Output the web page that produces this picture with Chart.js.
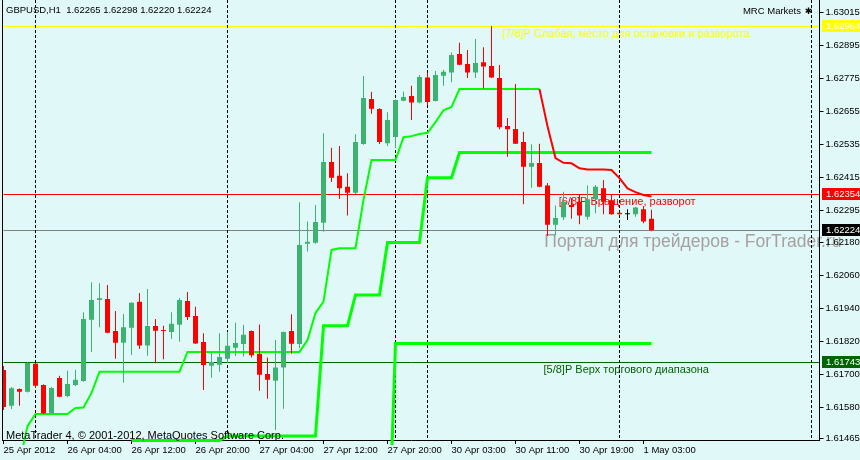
<!DOCTYPE html>
<html>
<head>
<meta charset="utf-8">
<script src="https://cdn.jsdelivr.net/npm/chart.js@4"></script>
<style>
  html, body { margin: 0; padding: 0; background: #e0f8f8; }
  #wrap { width: 860px; height: 460px; }
</style>
</head>
<body>
<div id="wrap"><canvas id="chart" width="860" height="460"></canvas></div>
<script>
// GBPUSD H1, one entry per hourly bar, from 25 Apr 2012 20:00
const opens = [
  1.61715, 1.61585, 1.61646, 1.61636, 1.61738, 1.61661, 1.61559, 1.61686, 1.61621, 1.61661,
  1.61675, 1.61898, 1.61970, 1.61973, 1.61857, 1.61814, 1.61869, 1.61963, 1.61804, 1.61875,
  1.61861, 1.61853, 1.61880, 1.61966, 1.61912, 1.61817, 1.61731, 1.61734, 1.61756, 1.61796,
  1.61810, 1.61857, 1.61774, 1.61701, 1.61676, 1.61724, 1.61857, 1.61810, 1.62174, 1.62178,
  1.62251, 1.62472, 1.62422, 1.62382, 1.62360, 1.62537, 1.62701, 1.62665, 1.62540, 1.62563,
  1.62695, 1.62712, 1.62688, 1.62779, 1.62694, 1.62786, 1.62797, 1.62865, 1.62828, 1.62797,
  1.62835, 1.62821, 1.62777, 1.62603, 1.62592, 1.62545, 1.62455, 1.62468, 1.62386, 1.62244,
  1.62271, 1.62315, 1.62327, 1.62273, 1.62336, 1.62376, 1.62333, 1.62287, 1.62282, 1.62282,
  1.62300, 1.62265
];
const highs = [
  1.61730, 1.61653, 1.61648, 1.61744, 1.61741, 1.61663, 1.61653, 1.61694, 1.61712, 1.61716,
  1.61925, 1.62034, 1.62031, 1.62024, 1.61930, 1.61919, 1.61962, 1.61995, 1.62010, 1.61901,
  1.61876, 1.61925, 1.61977, 1.61999, 1.61945, 1.61849, 1.61780, 1.61849, 1.61853, 1.61887,
  1.61880, 1.61859, 1.61881, 1.61761, 1.61824, 1.61855, 1.61918, 1.62325, 1.62255, 1.62315,
  1.62576, 1.62524, 1.62530, 1.62431, 1.62573, 1.62785, 1.62727, 1.62667, 1.62653, 1.62699,
  1.62728, 1.62749, 1.62788, 1.62797, 1.62803, 1.62807, 1.62870, 1.62906, 1.62879, 1.62919,
  1.62889, 1.62967, 1.62825, 1.62632, 1.62756, 1.62582, 1.62536, 1.62538, 1.62395, 1.62314,
  1.62364, 1.62341, 1.62352, 1.62386, 1.62388, 1.62406, 1.62355, 1.62288, 1.62300, 1.62309,
  1.62312, 1.62298
];
const lows = [
  1.61570, 1.61573, 1.61585, 1.61633, 1.61650, 1.61555, 1.61555, 1.61616, 1.61616, 1.61657,
  1.61672, 1.61781, 1.61871, 1.61849, 1.61756, 1.61669, 1.61770, 1.61792, 1.61767, 1.61740,
  1.61754, 1.61828, 1.61818, 1.61897, 1.61810, 1.61642, 1.61687, 1.61709, 1.61740, 1.61766,
  1.61764, 1.61761, 1.61640, 1.61611, 1.61497, 1.61574, 1.61774, 1.61794, 1.62146, 1.62174,
  1.62218, 1.62399, 1.62337, 1.62277, 1.62355, 1.62535, 1.62647, 1.62537, 1.62530, 1.62522,
  1.62693, 1.62625, 1.62686, 1.62678, 1.62692, 1.62749, 1.62762, 1.62824, 1.62777, 1.62777,
  1.62739, 1.62777, 1.62591, 1.62491, 1.62537, 1.62318, 1.62378, 1.62380, 1.62203, 1.62205,
  1.62261, 1.62265, 1.62245, 1.62263, 1.62285, 1.62282, 1.62280, 1.62281, 1.62261, 1.62273,
  1.62249, 1.62220
];
const closes = [
  1.61581, 1.61649, 1.61636, 1.61741, 1.61658, 1.61558, 1.61650, 1.61618, 1.61664, 1.61680,
  1.61901, 1.61970, 1.61976, 1.61851, 1.61814, 1.61871, 1.61960, 1.61804, 1.61875, 1.61858,
  1.61857, 1.61883, 1.61970, 1.61908, 1.61812, 1.61733, 1.61744, 1.61762, 1.61803, 1.61813,
  1.61843, 1.61769, 1.61698, 1.61680, 1.61724, 1.61853, 1.61811, 1.62170, 1.62182, 1.62254,
  1.62472, 1.62415, 1.62376, 1.62360, 1.62545, 1.62705, 1.62666, 1.62545, 1.62625, 1.62697,
  1.62708, 1.62688, 1.62781, 1.62690, 1.62788, 1.62800, 1.62861, 1.62826, 1.62797, 1.62832,
  1.62819, 1.62779, 1.62598, 1.62591, 1.62538, 1.62455, 1.62468, 1.62382, 1.62244, 1.62268,
  1.62327, 1.62308, 1.62277, 1.62336, 1.62382, 1.62327, 1.62282, 1.62282, 1.62282, 1.62306,
  1.62255, 1.62224
];

// indicator lines, each starts at bar index *From
const trailUpFrom = 2;
const trailUp = [
  1.61380, 1.61511, 1.61555, 1.61555, 1.61555, 1.61555, 1.61555, 1.61577, 1.61579, 1.61632,
  1.61709, 1.61709, 1.61709, 1.61709, 1.61709, 1.61709, 1.61709, 1.61709, 1.61709, 1.61709, 1.61709,
  1.61781, 1.61781, 1.61781, 1.61781, 1.61781, 1.61781, 1.61781, 1.61781, 1.61781, 1.61781,
  1.61781, 1.61781, 1.61781, 1.61781, 1.61781,
  1.61824, 1.61923, 1.61964, 1.62152, 1.62158, 1.62158, 1.62158, 1.62334,
  1.62479, 1.62479, 1.62479, 1.62479,
  1.62562, 1.62566, 1.62574, 1.62578, 1.62617, 1.62660, 1.62672,
  1.62737, 1.62737, 1.62737, 1.62737, 1.62737, 1.62737, 1.62737, 1.62737, 1.62737, 1.62737, 1.62737
];
const trailDownFrom = 67;
const trailDown = [
  1.62737, 1.62602, 1.62486, 1.62469, 1.62467, 1.62449, 1.62445, 1.62445, 1.62445, 1.62443,
  1.62413, 1.62376, 1.62362, 1.62352, 1.62346
];
const stepMidFrom = 16;
const stepMid = [
  1.61459, 1.61459, 1.61459, 1.61459, 1.61459, 1.61459, 1.61459, 1.61459, 1.61459, 1.61459, 1.61459, 1.61459,
  1.61475, 1.61475, 1.61475, 1.61475, 1.61475, 1.61475, 1.61475, 1.61475, 1.61475, 1.61475, 1.61475, 1.61475,
  1.61876, 1.61876, 1.61876, 1.61876,
  1.61988, 1.61988, 1.61988, 1.61988,
  1.62179, 1.62179, 1.62179, 1.62179, 1.62179,
  1.62415, 1.62415, 1.62415, 1.62415,
  1.62506, 1.62506, 1.62506, 1.62506, 1.62506, 1.62506, 1.62506, 1.62506, 1.62506, 1.62506,
  1.62506, 1.62506, 1.62506, 1.62506, 1.62506, 1.62506, 1.62506, 1.62506, 1.62506, 1.62506,
  1.62506, 1.62506, 1.62506, 1.62506, 1.62506
];
const stepLowFrom = 48;
const stepLow = [
  1.60957,
  1.61812, 1.61812, 1.61812, 1.61812, 1.61812, 1.61812, 1.61812, 1.61812, 1.61812, 1.61812, 1.61812,
  1.61812, 1.61812, 1.61812, 1.61812, 1.61812, 1.61812, 1.61812, 1.61812, 1.61812, 1.61812, 1.61812,
  1.61812, 1.61812, 1.61812, 1.61812, 1.61812, 1.61812, 1.61812, 1.61812, 1.61812, 1.61812, 1.61812
];

// horizontal levels: 7/8, 6/8, bid, 5/8
const levelPrices = [1.62964, 1.62354, 1.62224, 1.61743];
const levelTexts = ['[7/8]P Слабая, место для остановки и разворота', '[6/8]P Вращение, разворот', null, '[5/8]P Верх торгового диапазона'];
const levelTextBars = [62.3, 69.4, null, 67.5];

const timeTicks = [0, 8, 16, 24, 32, 40, 48, 56, 64, 72, 80];
const timeLabels = ['25 Apr 2012', '26 Apr 04:00', '26 Apr 12:00', '26 Apr 20:00', '27 Apr 04:00', '27 Apr 12:00',
  '27 Apr 20:00', '30 Apr 03:00', '30 Apr 11:00', '30 Apr 19:00', '1 May 03:00'];
const daySeparators = [4, 28, 49, 53, 77, 101];
const priceTicks = [1.63015, 1.62895, 1.62775, 1.62655, 1.62535, 1.62415, 1.62295, 1.62180,
  1.62060, 1.61940, 1.61820, 1.61700, 1.61580, 1.61465];
const slotCount = 103; // visible bar slots incl. chart shift

const BG = '#e0f8f8';
const FONT = '"Liberation Sans", Arial, sans-serif';
const BULL = '#3cb371', BEAR = '#ff0000', DOJI = '#000000';
const levelLineColors = ['#ffff00', '#ff0000', '#808080', '#006400'];
const levelBoxColors = ['#ffff00', '#ff0000', '#000000', '#006400'];
const levelTextColors = ['#ffff00', '#ff0000', null, '#006400'];

const pad = (from, values) => Array(from).fill(null).concat(values);
const candleColors = opens.map((o, i) => closes[i] > o ? BULL : (closes[i] < o ? BEAR : DOJI));
const last = opens.length - 1;

const mt4 = {
  id: 'mt4',
  beforeDraw(chart) {
    const { ctx, chartArea: a, scales: { x, y } } = chart;
    ctx.save();
    ctx.fillStyle = BG;
    ctx.fillRect(0, 0, chart.width, chart.height);

    // levels
    levelPrices.forEach((p, k) => {
      const py = Math.floor(y.getPixelForValue(p)) + 0.5;
      ctx.strokeStyle = levelLineColors[k];
      ctx.lineWidth = 1;
      ctx.beginPath(); ctx.moveTo(a.left, py); ctx.lineTo(a.right, py); ctx.stroke();
    });
    // level captions
    ctx.font = '11px ' + FONT;
    ctx.textBaseline = 'alphabetic';
    ctx.textAlign = 'left';
    levelTexts.forEach((t, k) => {
      if (!t) return;
      ctx.fillStyle = levelTextColors[k];
      ctx.fillText(t, x.getPixelForValue(levelTextBars[k]), Math.floor(y.getPixelForValue(levelPrices[k])) + 11);
    });
    // watermark
    ctx.font = '17.5px ' + FONT;
    ctx.fillStyle = '#a8a0a0';
    ctx.fillText('Портал для трейдеров - ForTrader.ru', x.getPixelForValue(67.6), y.getPixelForValue(1.62164));

    // day separators
    ctx.strokeStyle = '#000';
    ctx.setLineDash([3, 2]);
    daySeparators.forEach(i => {
      const px = Math.floor(x.getPixelForValue(i)) + 0.5;
      ctx.beginPath(); ctx.moveTo(px, a.top); ctx.lineTo(px, a.bottom); ctx.stroke();
    });
    ctx.restore();
  },
  afterDraw(chart) {
    const { ctx, chartArea: a, scales: { y } } = chart;
    ctx.save();
    // left frame
    ctx.strokeStyle = '#000';
    ctx.lineWidth = 1;
    ctx.beginPath(); ctx.moveTo(Math.floor(a.left) - 0.5, a.top); ctx.lineTo(Math.floor(a.left) - 0.5, a.bottom + 1); ctx.stroke();

    // price boxes on the axis
    ctx.font = '9.5px ' + FONT;
    ctx.textBaseline = 'middle';
    levelPrices.forEach((p, k) => {
      const py = Math.floor(y.getPixelForValue(p));
      ctx.fillStyle = levelBoxColors[k];
      ctx.fillRect(822, py - 6, 38, 12);
      ctx.fillStyle = '#fff';
      ctx.fillText(p.toFixed(5), 826, py);
    });

    // header
    ctx.fillStyle = '#000';
    ctx.fillText('GBPUSD,H1  ' + [opens[last], highs[last], lows[last], closes[last]].map(v => v.toFixed(5)).join(' '), 6, 10);
    ctx.textAlign = 'right';
    ctx.fillText('MRC Markets', 801, 11.5);
    ctx.textAlign = 'center';
    ctx.font = 'bold 9px "DejaVu Sans", sans-serif';
    ctx.fillText('✱', 808.5, 12);

    ctx.textAlign = 'left';
    ctx.textBaseline = 'alphabetic';
    ctx.font = '11px ' + FONT;
    ctx.fillText('MetaTrader 4, © 2001-2012, MetaQuotes Software Corp.', 6, 439);
    ctx.restore();
  }
};

const lineClip = { left: 0, top: 0, right: 0, bottom: 5 };
const barClip = { left: 1, top: 0, right: 0, bottom: 0 };

new Chart(document.getElementById('chart'), {
  type: 'bar',
  data: {
    labels: Array.from({ length: slotCount }, (_, i) => i),
    datasets: [
      {
        label: 'wicks', data: lows.map((l, i) => [l, highs[i]]),
        backgroundColor: candleColors, barThickness: 1, grouped: false,
        inflateAmount: 0, borderWidth: 0, clip: barClip
      },
      {
        label: 'bodies', data: opens.map((o, i) => [o, closes[i]]),
        backgroundColor: candleColors, barThickness: 5, minBarLength: 1, grouped: false,
        inflateAmount: 0, borderWidth: 0, clip: barClip
      },
      {
        type: 'line', label: 'trail down', data: pad(trailDownFrom, trailDown),
        borderColor: '#ff0000', borderWidth: 2, pointRadius: 0, tension: 0, clip: lineClip
      },
      {
        type: 'line', label: 'trail up', data: pad(trailUpFrom, trailUp),
        borderColor: '#00ff00', borderWidth: 2, pointRadius: 0, tension: 0, clip: lineClip
      },
      {
        type: 'line', label: 'step mid', data: pad(stepMidFrom, stepMid),
        borderColor: '#00ff00', borderWidth: 3, pointRadius: 0, tension: 0, clip: lineClip
      },
      {
        type: 'line', label: 'step low', data: pad(stepLowFrom, stepLow),
        borderColor: '#00ff00', borderWidth: 3, pointRadius: 0, tension: 0, clip: lineClip
      }
    ]
  },
  options: {
    responsive: false,
    animation: false,
    events: [],
    devicePixelRatio: 1,
    layout: { padding: { left: 3.5, top: 0, right: 0, bottom: 0 } },
    plugins: { legend: { display: false }, tooltip: { enabled: false } },
    scales: {
      x: {
        type: 'category',
        offset: false,
        grid: { offset: false, drawOnChartArea: false, drawTicks: true, tickLength: 4, color: '#000' },
        border: { display: true, color: '#000' },
        ticks: {
          autoSkip: false, maxRotation: 0, align: 'start', padding: 1, color: '#000',
          font: { family: FONT, size: 9.5 },
          callback: (v, i) => timeLabels[i]
        },
        afterBuildTicks: s => { s.ticks = timeTicks.map(v => ({ value: v })); },
        afterFit: s => { s.height = 20; s.paddingLeft = 0; s.paddingRight = 0; }
      },
      y: {
        type: 'linear',
        position: 'right',
        min: 1.614605,
        max: 1.630612,
        grid: { drawOnChartArea: false, drawTicks: true, tickLength: 4, color: '#000' },
        border: { display: true, color: '#000' },
        ticks: {
          padding: 2, color: '#000',
          font: { family: FONT, size: 9.5 },
          callback: v => v.toFixed(5)
        },
        afterBuildTicks: s => { s.ticks = priceTicks.map(v => ({ value: v })); },
        afterFit: s => { s.width = 40.5; s.paddingTop = 0; s.paddingBottom = 0; }
      }
    }
  },
  plugins: [mt4]
});
</script>
</body>
</html>
